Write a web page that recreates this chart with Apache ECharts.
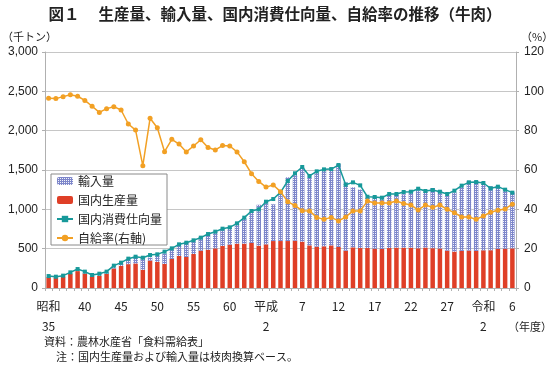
<!DOCTYPE html>
<html><head><meta charset="utf-8">
<script src="https://cdn.jsdelivr.net/npm/echarts@6/dist/echarts.min.js"></script>
<style>html,body{margin:0;padding:0;background:#fff}#c{width:550px;height:367px}</style>
</head><body><div id="c"></div>
<script>
const years = [];
for (let y = 1960; y <= 2024; y++) years.push(String(y));
const tickYears = ['1960','1965','1970','1975','1980','1985','1990','1995','2000','2005','2010','2015','2020','2024'];
const tickTexts = ['昭和\n35','40','45','50','55','60','平成\n2','7','12','17','22','27','令和\n2','6'];

const production = [135,135,145,180,215,185,145,155,180,248,281,303,312,232,348,333,
  305,369,407,394,432,474,487,504,534,551,564,564,572,538,555,597,
  597,597,601,589,542,525,530,542,521,474,517,508,508,500,496,508,513,513,
  512,505,514,506,502,475,463,471,476,471,479,480,497,500,504];
const imports = [6,6,4,5,6,11,14,20,19,23,33,62,77,150,40,91,
  134,132,146,189,172,172,198,208,213,225,268,319,408,520,549,467,
  605,810,834,941,873,941,974,975,1055,868,763,743,643,654,667,662,671,679,
  731,737,722,765,738,696,752,817,886,890,845,813,804,752,712];
const consumption = [152,144,157,199,241,208,165,182,208,284,322,373,398,385,419,428,
  462,504,555,576,606,640,686,716,754,771,822,894,979,1000,1097,1131,
  1216,1360,1458,1538,1424,1483,1508,1512,1563,1313,1343,1305,1160,1157,1148,1195,1195,1220,
  1224,1262,1233,1246,1224,1195,1237,1301,1343,1347,1335,1267,1288,1250,1212];
const selfRate = [96.5,96.3,97.3,98.3,97.5,95.4,92.4,89.3,91.2,92.2,
  90.5,83.4,80.3,62.2,86.3,81.5,69.3,75.6,73.2,69.2,
  72.2,75.4,71.4,70.2,72.4,72.2,69.2,64.2,58.1,54.2,
  51.3,52.4,49.0,43.9,41.9,39.3,39.2,35.9,34.9,35.9,
  34.1,36.1,39.2,39.2,44.2,43.2,43.2,43.2,44.2,43.0,
  42.2,39.7,42.2,41.0,42.2,40.0,38.3,36.1,36.1,34.9,
  36.6,38.5,39.5,40.2,42.6];

// hatch pattern for imports
const pc = document.createElement('canvas');
pc.width = 2; pc.height = 2;
const px = pc.getContext('2d');
px.fillStyle = '#7d86ca'; px.fillRect(0,0,2,2);
px.fillStyle = '#f2f3fa'; px.fillRect(1,1,1,1);
const hatch = {image: pc, repeat: 'repeat'};

const JP = '"Noto Sans CJK JP","Liberation Sans",sans-serif';
const NUM = '"Liberation Sans","Noto Sans CJK JP",sans-serif';

const chart = echarts.init(document.getElementById('c'), null, {renderer: 'canvas'});
chart.setOption({
  animation: false,
  backgroundColor: '#fff',
  title: {
    text: '図１　 生産量、輸入量、国内消費仕向量、自給率の推移（牛肉）',
    left: 'center', top: 1,
    textStyle: {fontFamily: JP, fontSize: 15.5, fontWeight: 'bold', color: '#222'}
  },
  grid: {left: 45, right: 34, top: 52, bottom: 79, containLabel: false},
  legend: {
    orient: 'vertical', left: 51, top: 174,
    backgroundColor: '#fff', borderColor: '#8a8a8a', borderWidth: 1,
    padding: [0, 5], itemGap: 5, itemWidth: 16, itemHeight: 8,
    textStyle: {fontFamily: JP, fontSize: 12, color: '#222', lineHeight: 14},
    data: ['輸入量', '国内生産量', '国内消費仕向量', '自給率(右軸)']
  },
  xAxis: {
    type: 'category', data: years, boundaryGap: true,
    axisLine: {lineStyle: {color: '#b0b0b0'}},
    axisTick: {show: true, interval: 0, length: 3, lineStyle: {color: '#b0b0b0'}},
    axisLabel: {
      interval: (i, v) => tickYears.includes(v),
      formatter: v => { const k = tickYears.indexOf(v); return k >= 0 ? tickTexts[k] : ''; },
      fontFamily: JP, fontSize: 12, color: '#222', lineHeight: 20, margin: 8
    }
  },
  yAxis: [{
    type: 'value', min: 0, max: 3000, interval: 500,
    axisLine: {show: true, lineStyle: {color: '#b0b0b0'}},
    axisTick: {show: true, length: 3, lineStyle: {color: '#b0b0b0'}},
    splitLine: {lineStyle: {color: '#c6c6c6'}},
    axisLabel: {fontFamily: NUM, fontSize: 12, color: '#222', margin: 7,
      formatter: v => v.toLocaleString('en-US')}
  }, {
    type: 'value', min: 0, max: 120, interval: 20, position: 'right',
    axisLine: {show: true, lineStyle: {color: '#b0b0b0'}},
    axisTick: {show: true, length: 3, lineStyle: {color: '#b0b0b0'}},
    splitLine: {show: false},
    axisLabel: {fontFamily: NUM, fontSize: 12, color: '#222', margin: 8}
  }],
  series: [{
    name: '国内生産量', type: 'bar', stack: 'total', data: production,
    barWidth: '62%', itemStyle: {color: '#df3f27'}
  }, {
    name: '輸入量', type: 'bar', stack: 'total', data: imports,
    barWidth: '62%', itemStyle: {color: hatch}
  }, {
    name: '国内消費仕向量', type: 'line', data: consumption, yAxisIndex: 0,
    symbol: 'rect', symbolSize: 4, showAllSymbol: true,
    lineStyle: {color: '#17999a', width: 1.5}, itemStyle: {color: '#17999a'}, z: 4
  }, {
    name: '自給率(右軸)', type: 'line', data: selfRate, yAxisIndex: 1,
    symbol: 'circle', symbolSize: 5, showAllSymbol: true,
    lineStyle: {color: '#f2a024', width: 1.5}, itemStyle: {color: '#f2a024'}, z: 5
  }],
  graphic: [
    {type: 'text', left: 2, top: 31, style: {text: '（千トン）', fontFamily: JP, fontSize: 11, fill: '#222'}},
    {type: 'text', left: 521, top: 31, style: {text: '（%）', fontFamily: JP, fontSize: 11, fill: '#222'}},
    {type: 'text', left: 508, top: 321, style: {text: '（年度）', fontFamily: JP, fontSize: 11, fill: '#222'}},
    {type: 'text', left: 44, top: 336, style: {text: '資料：農林水産省「食料需給表」', fontFamily: JP, fontSize: 11, fill: '#222'}},
    {type: 'text', left: 56, top: 351, style: {text: '注：国内生産量および輸入量は枝肉換算ベース。', fontFamily: JP, fontSize: 11, fill: '#222'}}
  ]
});
</script></body></html>
